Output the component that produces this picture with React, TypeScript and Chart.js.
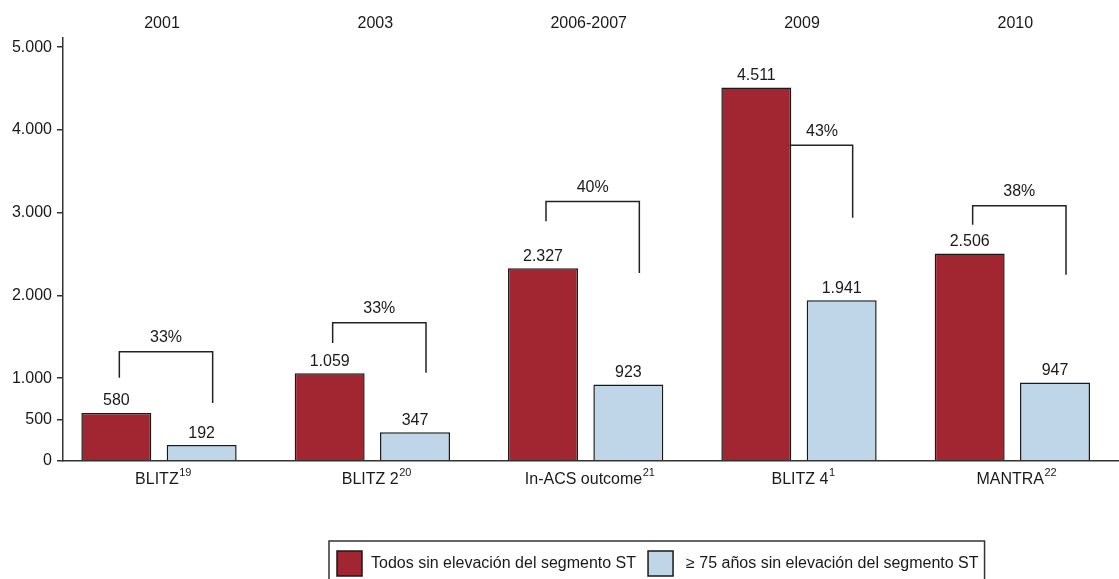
import React, { useEffect, useRef } from 'react';
import { Chart, registerables } from 'chart.js';

Chart.register(...registerables);

// ---- data ----
const categories = ['BLITZ', 'BLITZ 2', 'In-ACS outcome', 'BLITZ 4', 'MANTRA'];
const references = ['19', '20', '21', '1', '22'];
const years = ['2001', '2003', '2006-2007', '2009', '2010'];
const allPatients = [580, 1059, 2327, 4511, 2506];
const elderlyPatients = [192, 347, 923, 1941, 947];
const elderlyShare = ['33%', '33%', '40%', '43%', '38%'];
// bracket levels (data units)
const bracketTop = [1320, 1670, 3135, 3815, 3085];
const bracketLeftEnd = [1005, 1425, 2895, 3815, 2855];
const bracketRightEnd = [700, 1065, 2270, 2940, 2250];
const yTicks = [0, 500, 1000, 2000, 3000, 4000, 5000];
const seriesLabels = ['Todos sin elevación del segmento ST', '≥ 75 años sin elevación del segmento ST'];

// ---- style ----
const FONT = '"Liberation Sans", Arial, Helvetica, sans-serif';
const RED = '#a22632';
const BLUE = '#bed6e8';
const INK = '#1a1a1a';
const LINE = '#333333';
const W = 1119;
const H = 600;

const fmt = (v: number) => String(v).replace(/\B(?=(\d{3})+(?!\d))/g, '.');

const annotations = {
  id: 'annotations',
  beforeDatasetsDraw(chart: any) {
    const { ctx } = chart;
    const y = chart.scales.y;
    const m0 = chart.getDatasetMeta(0);
    const m1 = chart.getDatasetMeta(1);
    ctx.save();
    ctx.strokeStyle = '#222';
    ctx.lineWidth = 1.5;
    ctx.font = `16px ${FONT}`;
    ctx.fillStyle = INK;
    ctx.textAlign = 'center';
    ctx.textBaseline = 'middle';
    elderlyShare.forEach((txt, i) => {
      const red = m0.data[i];
      const blue = m1.data[i];
      const lx = red.x + 3;
      const rx = blue.x + 11;
      const ty = y.getPixelForValue(bracketTop[i]);
      ctx.beginPath();
      ctx.moveTo(lx, y.getPixelForValue(bracketLeftEnd[i]));
      ctx.lineTo(lx, ty);
      ctx.lineTo(rx, ty);
      ctx.lineTo(rx, y.getPixelForValue(bracketRightEnd[i]));
      ctx.stroke();
      const hidden = ty > red.y;
      const from = hidden ? red.x + red.width / 2 : lx;
      ctx.fillText(txt, (from + rx) / 2, ty - 14);
    });
    ctx.restore();
  },
  afterDatasetsDraw(chart: any) {
    const { ctx } = chart;
    ctx.save();
    ctx.font = `16px ${FONT}`;
    ctx.fillStyle = INK;
    ctx.textAlign = 'center';
    ctx.textBaseline = 'middle';
    chart.data.datasets.forEach((ds: any, d: number) => {
      const meta = chart.getDatasetMeta(d);
      meta.data.forEach((bar: any, i: number) => {
        ctx.fillText(fmt(ds.data[i].y), bar.x, bar.y - 12);
      });
    });
    ctx.restore();
  },
  afterDraw(chart: any) {
    const { ctx } = chart;
    const x = chart.scales.x;
    ctx.save();
    ctx.fillStyle = INK;
    ctx.textBaseline = 'middle';
    // years on top
    ctx.font = `16px ${FONT}`;
    ctx.textAlign = 'center';
    years.forEach((yr, i) => {
      ctx.fillText(yr, x.getPixelForValue(i) + 3, 23.5);
    });
    // category labels with superscript references
    ctx.textAlign = 'left';
    categories.forEach((c, i) => {
      ctx.font = `16px ${FONT}`;
      const w1 = ctx.measureText(c).width;
      ctx.font = `11px ${FONT}`;
      const w2 = ctx.measureText(references[i]).width;
      const start = x.getPixelForValue(i) + 4 - (w1 + w2) / 2;
      ctx.font = `16px ${FONT}`;
      ctx.fillText(c, start, 480);
      ctx.font = `11px ${FONT}`;
      ctx.fillText(references[i], start + w1 + 0.5, 473);
    });
    // legend
    const boxLeft = 329;
    const boxTop = 541;
    const sq = 25;
    const sqTop = boxTop + 10;
    const colors = [RED, BLUE];
    ctx.font = `16px ${FONT}`;
    ctx.lineWidth = 1.5;
    ctx.strokeStyle = INK;
    let cx = boxLeft + 8;
    seriesLabels.forEach((lab, k) => {
      ctx.fillStyle = colors[k];
      ctx.fillRect(cx, sqTop, sq, sq);
      ctx.strokeRect(cx, sqTop, sq, sq);
      cx += sq + (k === 0 ? 9 : 13);
      ctx.fillStyle = INK;
      ctx.fillText(lab, cx, sqTop + sq / 2);
      cx += ctx.measureText(lab).width + (k === 0 ? 12 : 6);
    });
    ctx.strokeStyle = LINE;
    ctx.strokeRect(boxLeft, boxTop, cx - boxLeft, 60);
    ctx.restore();
  },
};

export default function App() {
  const ref = useRef<HTMLCanvasElement | null>(null);
  useEffect(() => {
    if (!ref.current) return;
    const chart = new Chart(ref.current, {
      type: 'bar',
      data: {
        datasets: [
          {
            label: seriesLabels[0],
            data: allPatients.map((v, i) => ({ x: i, y: v })),
            backgroundColor: RED,
            borderColor: INK,
            borderWidth: 1.5,
          },
          {
            label: seriesLabels[1],
            data: elderlyPatients.map((v, i) => ({ x: i, y: v })),
            backgroundColor: BLUE,
            borderColor: INK,
            borderWidth: 1.5,
          },
        ],
      },
      options: {
        responsive: false,
        animation: false,
        layout: { padding: { top: 38, bottom: H - 461, left: 0, right: 0 } },
        datasets: { bar: { categoryPercentage: 0.8, barPercentage: 0.82 } } as any,
        plugins: {
          legend: { display: false },
          tooltip: { enabled: false },
        },
        scales: {
          x: {
            type: 'linear',
            min: -0.45,
            max: 4.5,
            offset: false,
            afterBuildTicks: (s: any) => {
              s.ticks = categories.map((_, i) => ({ value: i }));
            },
            afterFit: (s: any) => {
              s.height = 0;
            },
            ticks: { display: false },
            grid: { display: false, offset: false },
            border: { display: true, color: LINE, width: 1.5, z: 1 },
          },
          y: {
            min: 0,
            max: 5110,
            afterBuildTicks: (s: any) => {
              s.ticks = yTicks.map((v) => ({ value: v }));
            },
            afterFit: (s: any) => {
              s.width = 63;
            },
            ticks: {
              callback: (v: any) => fmt(Number(v)),
              font: { size: 16, family: FONT },
              color: INK,
              padding: 5,
            },
            grid: { drawOnChartArea: false, drawTicks: true, tickLength: 6, color: LINE, lineWidth: 1.5 },
            border: { display: true, color: LINE, width: 1.5, z: 1 },
          },
        } as any,
      },
      plugins: [annotations],
    });
    return () => chart.destroy();
  }, []);
  return (
    <div style={{ position: 'absolute', left: 0, top: 0, width: W, height: 579, overflow: 'hidden', background: '#fff' }}>
      <canvas ref={ref} width={W} height={H} style={{ width: W, height: H, display: 'block' }} />
    </div>
  );
}
